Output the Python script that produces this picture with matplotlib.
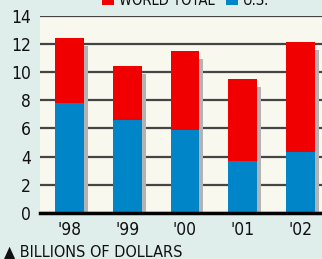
import matplotlib
matplotlib.use("Agg")
import matplotlib.pyplot as plt
import matplotlib.transforms as mtrans
from matplotlib.patches import Rectangle

years = ["'98", "'99", "'00", "'01", "'02"]
world_total = [12.4, 10.4, 11.5, 9.5, 12.1]
us = [7.8, 6.6, 5.9, 3.7, 4.3]
yticks = [0, 2, 4, 6, 8, 10, 12, 14]

plt.rcParams['font.family'] = ['DejaVu Sans']
plt.rcParams['font.stretch'] = 'condensed'

RED = '#f00000'
BLUE = '#0085c8'
SHADOW = '#b3b3b3'
BG = '#dfeeea'
PLOTBG = '#f9f8ef'

W, H = 322, 259
fig = plt.figure(figsize=(W / 100, H / 100), dpi=100)
fig.patch.set_facecolor(BG)

left_px, right_px = 40.5, 329.4
top_px, bot_px = 15.5, 213
ax = fig.add_axes([left_px / W, 1 - bot_px / H, (right_px - left_px) / W, (bot_px - top_px) / H])
ax.set_facecolor(PLOTBG)

x = list(range(len(years)))
rest = [t - u for t, u in zip(world_total, us)]

offset = mtrans.ScaledTranslation(4 / 100, -8 / 100, fig.dpi_scale_trans)
ax.bar(x, world_total, width=0.5, color=SHADOW, transform=ax.transData + offset, zorder=2)
ax.bar(x, us, width=0.5, color=BLUE, zorder=3)
ax.bar(x, rest, bottom=us, width=0.5, color=RED, zorder=3)

ax.set_xlim(-0.5, 4.5)
ax.set_ylim(0, 14)
ax.set_yticks(yticks)
ax.set_xticks(x)
ax.set_xticklabels(years)
ax.yaxis.grid(True, color='#454545', linewidth=1.6, zorder=1)
ax.set_axisbelow(True)
for s in ['top', 'right', 'left']:
    ax.spines[s].set_visible(False)
ax.spines['bottom'].set_linewidth(2.5)
ax.spines['bottom'].set_color('black')
ax.spines['bottom'].set_zorder(4)
ax.tick_params(axis='both', length=0, labelsize=12.5, colors='#111111')
ax.tick_params(axis='y', pad=7)
ax.tick_params(axis='x', pad=6)

# legend (partially cut at top, as in the original)
fig.patches.append(Rectangle((102 / W, 1 - 5 / H), 12 / W, 12 / H, transform=fig.transFigure,
                             facecolor=RED, edgecolor='none'))
fig.text(119 / W, 1 - 5 / H, 'WORLD TOTAL', fontsize=10.5, va='baseline', ha='left', color='#111111')
fig.patches.append(Rectangle((226 / W, 1 - 5 / H), 12 / W, 12 / H, transform=fig.transFigure,
                             facecolor=BLUE, edgecolor='none'))
fig.text(243 / W, 1 - 5 / H, 'U.S.', fontsize=10.5, va='baseline', ha='left', color='#111111')

fig.text(4 / W, 1 - 256 / H, '\u25b2 BILLIONS OF DOLLARS', fontsize=11.6, va='baseline', ha='left',
         color='#111111')

fig.savefig('out.png', dpi=100, facecolor=BG)
